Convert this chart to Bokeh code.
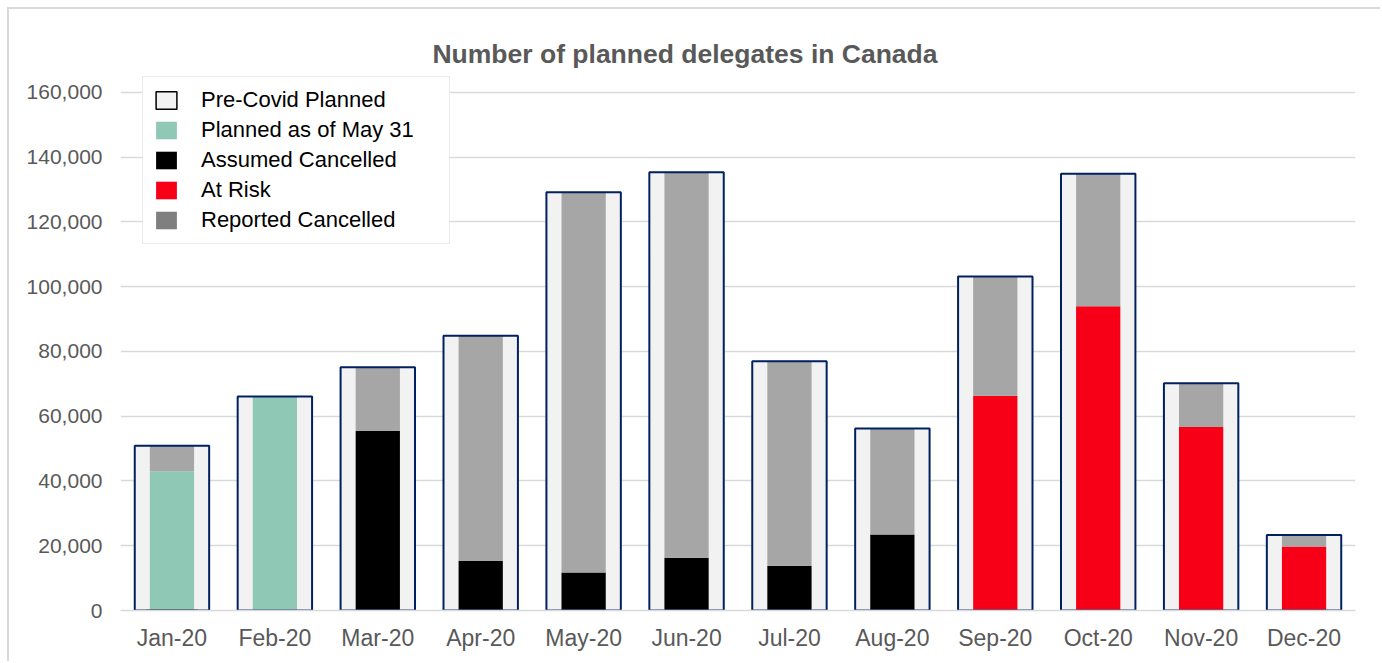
from bokeh.plotting import figure
from bokeh.models import FactorRange, Range1d, Legend, LegendItem, Label, NumeralTickFormatter, FixedTicker, ColumnDataSource
from bokeh.embed import file_html
from bokeh.resources import INLINE

months = ["Jan-20", "Feb-20", "Mar-20", "Apr-20", "May-20", "Jun-20",
          "Jul-20", "Aug-20", "Sep-20", "Oct-20", "Nov-20", "Dec-20"]
pre_covid = [50900, 66100, 75100, 84900, 129200, 135400, 77000, 56200, 103200, 134900, 70200, 23300]
planned_may31 = [43000, 66100, 0, 0, 0, 0, 0, 0, 0, 0, 0, 0]
assumed_cancelled = [0, 0, 55500, 15300, 11700, 16300, 13800, 23500, 0, 0, 0, 0]
at_risk = [0, 0, 0, 0, 0, 0, 0, 0, 66300, 94000, 56700, 19800]
reported_cancelled = [7900, 0, 19600, 69600, 117500, 119100, 63200, 32700, 36900, 40900, 13500, 3500]
y_ticks = [0, 20000, 40000, 60000, 80000, 100000, 120000, 140000, 160000]

FONT = "Liberation Sans"
GREY_TXT = "#595959"

src = ColumnDataSource(dict(months=months, pre=pre_covid, planned=planned_may31,
                            assumed=assumed_cancelled, risk=at_risk, reported=reported_cancelled))

# y range extended above 160,000 so that title and legend sit inside the frame
p = figure(width=1373, height=654, x_range=FactorRange(*months, range_padding=0),
           y_range=Range1d(0, 185637), output_backend="svg", toolbar_location=None,
           min_border_left=111, min_border_right=27, min_border_top=0, min_border_bottom=53)
p.title = None
p.outline_line_color = None
p.background_fill_color = "white"
p.border_fill_color = "white"
p.styles = {"margin-left": "7px", "margin-top": "7px",
            "border-left": "2px solid #d9d9d9", "border-top": "2px solid #d9d9d9"}

# Outer "Pre-Covid Planned" bars (fill)
p.vbar(x="months", top="pre", width=0.723, source=src, fill_color="#f2f2f2", line_color=None)

# Inner stacked bars
stack_r = p.vbar_stack(["planned", "assumed", "risk", "reported"], x="months", width=0.43, source=src,
                       color=["#8fc8b5", "#000000", "#f70017", "#a6a6a6"], line_color=None)

# Outer outline on top
p.vbar(x="months", top="pre", width=0.723, source=src, fill_color=None, line_color="#002060", line_width=2)

# Off-scale renderers used only for legend swatches
d_pre = p.vbar(x=["Jan-20"], top=[-2000], bottom=[-4000], width=0.5,
               fill_color="#f2f2f2", line_color="#000000", line_width=1.5)
d_rep = p.vbar(x=["Jan-20"], top=[-2000], bottom=[-4000], width=0.5,
               fill_color="#7f7f7f", line_color=None)

legend = Legend(items=[
    LegendItem(label="Pre-Covid Planned", renderers=[d_pre]),
    LegendItem(label="Planned as of May 31", renderers=[stack_r[0]]),
    LegendItem(label="Assumed Cancelled", renderers=[stack_r[1]]),
    LegendItem(label="At Risk", renderers=[stack_r[2]]),
    LegendItem(label="Reported Cancelled", renderers=[d_rep]),
], location=(22, 366), orientation="vertical")
legend.label_text_font = FONT
legend.label_text_font_size = "22px"
legend.label_text_color = "#000000"
legend.glyph_width = 26
legend.glyph_height = 22
legend.label_height = 22
legend.label_width = 238
legend.label_standoff = 22
legend.spacing = 4
legend.padding = 10
legend.margin = 0
legend.border_line_color = "#d9d9d9"
legend.border_line_width = 1.5
legend.background_fill_color = "white"
legend.background_fill_alpha = 1
p.add_layout(legend, "center")

# Axes
p.yaxis.ticker = FixedTicker(ticks=y_ticks)
p.yaxis.formatter = NumeralTickFormatter(format="0,0")
p.yaxis.axis_line_color = None
p.yaxis.major_tick_line_color = None
p.yaxis.minor_tick_line_color = None
p.yaxis.major_label_text_font = FONT
p.yaxis.major_label_text_font_size = "21px"
p.yaxis.major_label_text_color = GREY_TXT
p.yaxis.major_label_standoff = 12

p.xaxis.axis_line_color = "#d9d9d9"
p.xaxis.axis_line_width = 1.5
p.xaxis.major_tick_line_color = None
p.xaxis.minor_tick_line_color = None
p.xaxis.major_label_text_font = FONT
p.xaxis.major_label_text_font_size = "23px"
p.xaxis.major_label_text_color = GREY_TXT
p.xaxis.major_label_standoff = 8

p.xgrid.grid_line_color = None
p.ygrid.ticker = FixedTicker(ticks=y_ticks)
p.ygrid.grid_line_color = "#d9d9d9"
p.ygrid.grid_line_width = 1.5

# Title
title = Label(x=5.485, y=172000, text="Number of planned delegates in Canada",
              text_align="center", text_baseline="middle", text_font=FONT,
              text_font_style="bold", text_font_size="26.5px", text_color=GREY_TXT)
p.add_layout(title)

open("out.html", "w").write(file_html(p, INLINE))
